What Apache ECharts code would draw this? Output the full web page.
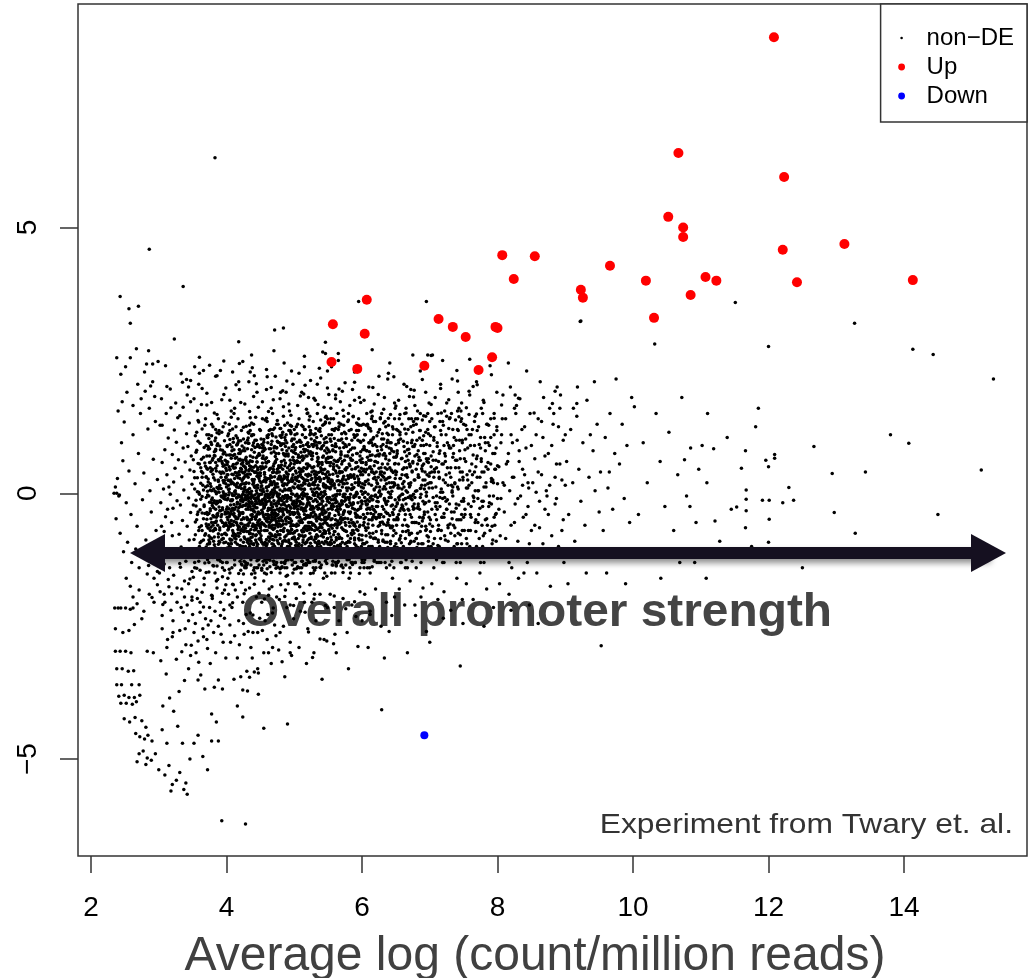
<!DOCTYPE html>
<html><head><meta charset="utf-8">
<script src="https://cdn.jsdelivr.net/npm/echarts@6/dist/echarts.min.js"></script>
<style>html,body{margin:0;padding:0;background:#fff}#c{width:1029px;height:978px}</style>
</head><body><div id="c"></div><script>
const FONT = '"Liberation Sans", Arial, Helvetica, sans-serif';
const xTicks = [2, 4, 6, 8, 10, 12, 14];
const yTicks = [-5, 0, 5];
const xTitle = 'Average log (count/million reads)';
const annotation = 'Overall promoter strength';
const credit = 'Experiment from Twary et. al.';
const legendNames = ['non\u2212DE', 'Up', 'Down'];

// Up-regulated (red) points [A, M]
const upPoints = [[12.08,8.58],[10.67,6.40],[12.23,5.95],[10.52,5.20],[10.74,5.00],[10.74,4.82],[12.21,4.58],[13.12,4.69],[8.07,4.48],[8.55,4.46],[9.66,4.28],[8.24,4.03],[10.19,4.00],[11.07,4.07],[11.23,4.00],[12.42,3.97],[14.13,4.01],[9.23,3.83],[9.26,3.68],[10.85,3.73],[6.07,3.64],[10.31,3.30],[7.13,3.28],[7.34,3.13],[5.57,3.18],[7.97,3.13],[8.00,3.11],[7.53,2.94],[6.04,3.00],[7.92,2.56],[5.55,2.47],[5.93,2.34],[6.92,2.40],[7.72,2.32]];
// Down-regulated (blue) points
const downPoints = [[6.92,-4.55]];
// Arrow annotation (data units)
const arrowY = -1.123, arrowFrom = 2.834, arrowTo = 15.247;

// non-DE points, pairs of (A*100, M*100)
const nonDE_far = [243,370,256,347,270,352,258,320,267,272,238,255,258,255,285,268,282,243,291,243,251,238,244,224,280,192,288,202,286,459,
236,12,241,-5,239,28,247,61,252,-18,245,95,249,134,256,42,259,-40,262,110,265,18,268,-62,270,75,273,150,276,-12,278,38,281,-88,284,121,287,5,289,-35,292,64,294,182,296,-70,298,26,
237,-48,243,-75,248,-110,254,-92,260,-130,266,-105,271,-140,277,-118,283,-152,288,-127,293,-160,297,-98,
240,155,246,172,253,190,262,165,269,205,274,178,279,228,286,160,291,210,295,135,299,248,
235,-216,240,-216,244,-216,251,-216,258,-218,262,-216,268,-208,236,-255,247,-262,256,-258,264,-247,275,-236,
236,-297,243,-297,251,-297,259,-300,283,-297,292,-300,238,-330,246,-330,255,-335,263,-334,
238,-360,245,-360,260,-360,271,-360,241,-382,249,-380,256,-384,264,-384,272,-380,244,-395,252,-395,261,-397,267,-392,
249,-424,257,-430,265,-422,275,-428,281,-440,266,-452,272,-458,279,-462,284,-455,290,-466,
271,-490,277,-485,283,-498,289,-502,295,-490,268,-505,281,-510,
252,-160,258,-175,271,-182,286,-190,293,-205,298,-172,262,-195,278,-222,234,0,238,0,242,-3];
const nonDE_30 = [300,-520,309,-530,315,-512,318,-560,320,-548,326,-540,331,-525,337,-557,342,-566,340,-545,346,-500,335,-470,328,-438,312,-470,305,-445,322,-410,316,-385,306,-400,330,-373,338,-352,344,-330,311,-340,303,-315,326,-312,334,-298,348,-286,313,-275,321,-262,339,-255,344,-240,305,-230,318,-220,327,-205,342,-210,349,-195,308,-190,315,-176,334,-180,
301,-150,304,-121,306,-96,308,-72,310,-44,303,-18,307,8,312,35,305,58,309,82,314,104,302,128,311,150,316,-140,318,-108,320,-80,319,-55,321,-28,317,-2,322,21,324,47,320,73,326,96,323,119,328,142,331,-132,333,-101,330,-77,335,-51,332,-22,337,6,334,31,339,59,336,85,341,112,338,-165,343,-118,345,-88,342,-62,347,-36,344,-9,349,17,346,44,348,70,345,132,349,-147,304,-62,313,-30,327,-14,340,-128,329,63,315,12,343,88,
304,178,317,196,325,170,333,225,342,185,347,212,310,240,336,162,336,389,323,290,335,209,344,200,
302,-185,309,-205,314,-162,321,-240,327,-178,333,-215,338,-195,344,-170,305,-255,312,-290,320,-270,331,-258,340,-285,347,-305];
const nonDE_35 = [352,-470,358,-455,365,-495,372,-520,378,-466,385,-430,388,-351,382,-365,376,-320,368,-368,362,-342,355,-300,358,-278,366,-270,372,-292,381,-262,388,-250,395,-280,397,-235,354,-245,361,-224,369,-236,375,-215,383,-222,391,-205,357,-198,364,-186,378,-192,386,-178,394,-188,399,-172,
351,-158,353,-130,352,-105,354,-78,356,-50,355,-24,357,3,353,29,358,56,356,81,354,108,359,134,357,155,
361,-145,362,-117,363,-90,360,-64,364,-37,362,-11,365,15,363,41,366,68,361,94,364,121,
367,-160,368,-131,370,-103,369,-76,371,-49,367,-22,372,4,370,31,368,57,373,83,371,110,369,140,
374,-148,376,-119,375,-92,377,-64,374,-38,378,-12,376,18,379,44,375,70,377,96,380,125,
381,-137,383,-110,382,-82,384,-55,381,-27,385,-1,383,25,386,52,382,78,384,104,386,148,
387,-162,389,-124,388,-96,390,-69,387,-42,391,-15,389,11,392,37,388,63,390,89,393,115,
394,-140,396,-112,395,-85,397,-58,394,-31,398,-5,396,20,399,47,395,74,397,99,398,132,
381,8,383,-66,385,42,387,-18,389,-90,391,65,393,-40,395,3,397,-76,399,30,382,-44,384,80,386,-120,388,22,390,-33,392,-104,394,56,396,-8,398,-60,400,-115,378,-85,376,58,374,-5,372,-125,370,90,368,-38,366,6,364,-70,362,48,360,-100,
352,178,359,205,371,188,378,171,384,220,393,176,399,198,363,167,375,241,360,256,353,238,366,231,360,226,396,249,386,221,383,631,
388,-466,378,-415,394,-368,358,-351,350,-228,356,-182,361,-205,367,-172,373,-248,379,-198,385,-165,391,-230,397,-182,352,-262,359,-318,365,-255,371,-275,377,-240,384,-300,392,-265,399,-310,393,-616,428,-622];
const nonDE_40 = [401,-12,402,35,403,-67,404,8,405,-41,406,72,407,-95,408,21,409,-28,410,54,411,-3,412,-84,413,39,414,-55,415,91,416,-17,417,-121,418,63,419,-36,420,14,
421,-70,422,45,423,-9,424,-102,425,28,426,-48,427,80,428,-23,429,-140,430,2,431,57,432,-61,433,19,434,-88,435,36,436,-31,437,108,438,-6,439,-77,440,49,
441,-114,442,11,443,-44,444,67,445,-19,446,-96,447,31,448,-58,449,86,450,-2,401,-130,403,24,405,118,407,-33,409,-171,411,47,413,-79,415,-8,417,29,419,-63,
421,99,423,-25,425,-152,427,6,429,61,431,-92,433,-15,435,142,437,-49,439,17,441,-69,443,40,445,-127,447,-11,449,23,402,-50,404,-110,406,-22,408,87,410,-74,
412,16,414,125,416,-60,418,-3,420,-99,422,-37,424,58,426,8,428,-118,430,-45,432,94,434,-1,436,-83,438,43,440,-24,442,-150,444,-66,446,15,448,72,450,-85,
400,60,402,-160,404,50,406,-88,408,-14,410,103,412,-43,414,-26,416,38,418,-81,420,75,422,-133,424,-13,426,-72,428,34,430,-105,432,-30,434,52,436,-2,438,-62,
440,130,442,-20,444,-92,446,48,448,-39,401,90,403,-3,405,-58,407,155,409,-80,411,-38,413,66,415,-112,417,-46,419,82,421,-14,423,18,425,-64,427,-138,429,44,
431,-8,433,113,435,-75,437,-19,439,-108,441,26,443,-80,445,59,447,-125,449,-50,
403,-190,408,-215,413,-182,418,-240,424,-205,429,-228,434,-178,439,-262,444,-195,449,-235,406,-280,416,-310,426,-265,436,-290,446,-330,411,-350,421,-345,431,-372,441,-336,447,-378,
405,175,412,160,419,195,427,168,433,210,440,182,447,162,409,228,424,248,438,236,418,285,419,244,437,260,435,228,418,210,444,206,
424,-421,416,-400,424,-370,430,-335,434,-346,447,-338,405,-210,410,-172,416,-195,422,-168,428,-182,435,-225,441,-171,448,-188,405,-248,412,-268,419,-285,425,-245,432,-260,438,-310,446,-262];
const nonDE_45 = [451,20,452,-55,453,4,454,-103,455,47,456,-26,457,83,458,-70,459,11,460,-41,461,-124,462,60,463,-14,464,-85,465,33,466,-50,467,112,468,-7,469,-96,470,22,
471,-32,472,69,473,-141,474,1,475,-60,476,40,477,-19,478,95,479,-78,480,-10,481,53,482,-115,483,-29,484,16,485,-66,486,128,487,-4,488,-90,489,37,490,-46,
491,74,492,-23,493,-107,494,9,495,-57,496,46,497,-135,498,-16,499,62,500,-82,451,-88,453,-36,455,101,457,-11,459,-152,461,28,463,-64,465,-2,467,-118,469,51,
471,-81,473,12,475,137,477,-47,479,32,481,-99,483,-6,485,-130,487,57,489,-25,491,-170,493,43,495,-12,497,88,499,-40,452,14,454,66,456,-112,458,-21,460,105,
462,-48,464,-3,466,-77,468,39,470,-128,472,-37,474,85,476,-93,478,-13,480,49,482,21,484,-58,486,-30,488,74,490,-101,492,-8,494,118,496,-68,498,24,500,-26,
450,-63,452,-145,454,-19,456,36,458,-98,460,5,462,154,464,-55,466,18,468,-87,470,-14,472,-60,474,-121,476,27,478,-34,480,-110,482,82,484,-41,486,8,488,-156,
490,31,492,-72,494,-48,496,99,498,-84,451,-20,453,78,455,-44,457,-92,459,57,461,-6,463,-180,465,-29,467,19,469,-66,471,123,473,-52,475,-89,477,48,479,-142,
481,-51,483,26,485,93,487,-111,489,-9,491,6,493,-34,495,-74,497,29,499,-119,
452,-205,457,-240,462,-192,468,-225,473,-268,478,-200,484,-250,489,-215,494,-280,499,-236,455,-300,466,-320,477,-295,486,-345,496,-305,
453,172,459,195,466,160,472,220,479,178,485,245,492,168,498,205,470,268,488,190,459,233,460,219,496,230,471,307,484,311,480,190,483,193,
455,-442,490,-434,494,-300,482,-317,468,-290,462,-300,455,-165,461,-228,467,-176,474,-195,480,-172,487,-182,494,-210,453,-258,460,-275,471,-248,479,-262];
const nonDE_50 = [501,-38,502,27,503,-92,504,61,505,-15,506,-60,507,10,508,97,509,-117,510,-27,511,44,512,-73,513,-4,514,83,515,-48,516,18,517,-132,518,55,519,-21,520,-88,
521,36,522,125,523,-55,524,-10,525,71,526,-100,527,3,528,-35,529,50,530,-145,531,22,532,-64,533,90,534,-16,535,-81,536,39,537,-44,538,116,539,-2,540,-109,
541,58,542,-28,543,14,544,-70,545,80,546,-51,547,-123,548,31,549,-8,550,66,501,110,503,-19,505,-140,507,47,509,-55,511,-98,513,28,515,7,517,-33,519,92,
521,-67,523,145,525,-26,527,-110,529,16,531,-40,533,2,535,68,537,-95,539,41,541,-14,543,-160,545,-37,547,60,549,-85,502,-111,504,-45,506,32,508,-6,510,77,
512,-128,514,-32,516,105,518,-62,520,24,522,-18,524,-94,526,48,528,-150,530,8,532,26,534,-46,536,-108,538,-20,540,84,542,-76,544,12,546,134,548,-57,550,-11,
500,-74,504,-170,508,40,512,70,516,-80,520,-42,524,113,528,-3,532,-122,536,56,540,-30,544,-50,548,96,506,-24,510,15,514,-66,518,-135,522,75,526,-30,530,99,
534,-101,538,-58,542,37,546,-90,550,25,
503,-198,509,-222,514,-188,520,-255,526,-205,532,-240,538,-190,544,-275,549,-215,507,-290,518,-320,529,-300,541,-350,
505,165,511,190,518,158,524,212,531,175,537,235,544,162,549,198,515,258,534,205,507,226,515,238,542,266,546,284,549,230,546,263,514,187,521,180,529,179,
527,-309,538,-274,548,-278,521,-261,501,-170,508,-176,515,-205,523,-172,530,-190];
const nonDE_55 = [551,-42,552,35,553,-97,554,12,555,68,556,-21,557,-128,558,50,559,-60,560,-3,561,93,562,-83,563,23,564,-30,565,120,566,-108,567,5,568,-49,569,74,570,-14,
571,40,572,-140,573,-36,574,62,575,-2,576,-71,577,103,578,19,579,-92,580,-25,581,55,582,-8,583,-119,584,30,585,-56,586,85,587,-19,588,11,589,-84,590,46,
591,-44,592,132,593,-1,594,-102,595,27,596,-63,597,70,598,-28,599,4,600,-79,552,-75,554,98,556,24,558,-12,560,-150,562,60,564,-52,566,16,568,-96,570,112,
572,-6,574,-33,576,44,578,-125,580,78,582,-62,584,-22,586,9,588,-110,590,-37,592,58,594,20,596,-88,598,96,600,-15,551,-105,553,52,555,-24,557,15,559,103,
561,-58,563,-16,565,-77,567,41,569,-137,571,-20,573,86,575,-47,577,-93,579,33,581,-160,583,66,585,7,587,-70,589,28,591,-5,593,-54,595,118,597,-113,599,47,
553,-190,559,-215,566,-240,572,-198,578,-262,585,-210,591,-232,597,-185,562,-300,580,-330,594,-288,558,-283,560,-265,
554,160,561,185,568,172,575,208,582,165,589,228,596,180,565,250,586,195,565,263,555,238,551,186,589,175,571,192,595,361];
const nonDE_60 = [601,35,602,-40,603,88,604,-95,605,2,606,54,607,-22,608,130,609,-65,610,18,611,-118,612,71,613,-9,614,40,615,-50,616,102,617,-30,618,6,619,-84,620,60,
621,25,622,-107,623,80,624,-16,625,47,626,-60,627,142,628,-2,629,-76,630,33,631,92,632,-44,633,13,634,-130,635,65,636,-21,637,113,638,-55,639,29,640,-8,
641,75,642,-90,643,44,644,4,645,-36,646,121,647,-70,648,18,649,56,650,-25,602,100,604,16,606,-80,608,-12,610,62,612,-150,614,95,616,-45,618,37,620,-3,
622,20,624,-88,626,74,628,48,630,-54,632,158,634,-14,636,27,638,-102,640,85,642,11,644,-62,646,39,648,-115,650,68,603,-130,607,45,611,-28,615,155,619,-5,
623,-45,627,36,631,-90,635,8,639,110,643,-24,647,-140,605,-15,613,117,621,-72,629,82,637,-38,645,-160,
604,-190,612,-222,620,-180,628,-250,636,-205,644,-230,609,-290,633,-310,648,-195,600,-240,612,-228,640,-260,629,-407,
603,175,610,200,618,168,625,220,633,180,641,245,648,170,615,270,638,215,647,219];
const nonDE_65 = [651,40,653,-50,654,95,655,-12,657,28,658,-93,659,66,661,-30,662,12,663,121,665,-72,666,48,668,-8,669,83,671,-120,672,20,673,-45,675,57,676,135,677,-20,
679,4,680,-85,681,73,683,30,684,-57,685,104,687,-2,688,46,689,-110,691,90,692,-35,693,15,695,-68,696,60,697,150,699,-15,700,38,652,-102,656,110,660,-60,
664,34,667,-140,670,55,674,-5,678,92,682,-28,686,9,690,-47,694,115,698,-90,652,75,656,-33,660,18,664,-10,667,82,670,-78,674,42,678,-55,682,140,686,-115,
690,25,694,-18,698,65,653,10,659,-22,665,160,671,-5,677,88,683,-95,689,52,695,2,
655,-180,663,-210,671,-165,679,-230,687,-195,695,-260,667,-300,690,-178,678,-210,700,-280,
654,175,662,205,670,182,678,165,686,230,694,190,675,260,699,170,677,194,672,195,695,361,697,260];
const nonDE_70 = [701,-50,702,70,704,10,705,-95,707,45,708,125,709,-25,711,88,712,-70,714,30,715,-8,717,110,718,-45,720,55,721,-130,723,20,724,-15,726,95,727,-60,729,38,
730,142,732,-35,733,5,735,75,736,-100,738,48,739,-20,741,120,742,-75,744,25,745,65,747,-40,748,100,750,-10,703,40,710,-5,716,-85,722,155,728,-110,734,12,
740,-50,746,135,706,-140,713,60,719,2,725,-30,731,85,737,-65,743,160,749,30,
703,-170,712,-200,721,-185,731,-220,740,-160,749,-245,720,-235,748,-200,745,-325,
708,180,716,205,725,170,733,215,742,190,719,250,747,170,704,260,740,231,702,259,
752,-30,753,60,755,120,757,-70,758,15,760,90,762,-110,763,35,765,-15,767,145,768,-50,770,70,772,5,773,-85,775,105,777,40,778,-25,780,-130,782,80,783,20,
785,-60,787,128,788,-5,790,55,792,-95,793,25,795,150,797,-40,798,85,800,-10,756,10,761,-45,766,40,771,-10,776,160,781,-75,786,95,791,-20,796,45,
754,-170,764,-200,774,-150,784,-180,794,-215,759,185,769,210,779,175,789,240,799,190,784,-120,759,252,770,204,758,192,780,-250];
const nonDE_80 = [802,50,804,-80,806,110,808,20,810,-35,812,140,814,-110,816,75,818,5,820,-60,822,95,824,30,826,-20,828,165,830,-90,832,60,834,-5,836,120,838,-45,840,35,
842,85,844,-130,846,10,848,150,850,-70,805,-10,813,55,821,-140,829,100,837,15,845,-25,
803,-170,817,-190,831,-160,847,-210,808,185,819,200,833,178,843,230,825,160,839,-150,816,245,826,185,820,-220,
852,20,855,-60,857,110,860,40,862,-15,865,135,867,-95,870,70,872,5,875,-40,877,160,880,90,882,-120,885,30,887,-10,890,125,892,55,895,-70,897,100,900,15,
858,-150,868,180,878,-175,888,200,898,-130,863,210,893,185,873,-5,883,150,885,192,860,-245];
const nonDE_90 = [902,60,905,-40,908,120,911,20,914,-90,917,145,920,45,923,-15,926,95,929,-60,932,175,935,30,938,-120,941,80,944,5,947,130,950,-35,904,-170,918,200,931,-150,943,210,912,160,937,110,
917,169,923,324,922,323,
952,40,956,-70,959,105,963,10,966,150,970,-30,973,75,977,-110,980,55,984,130,987,-10,991,90,995,-55,998,180,961,-150,975,215,989,-170,965,40,953,-287];
const nonDE_hi = [1002,163,1008,-40,1015,95,1021,20,1028,-110,1034,150,1040,60,1047,-25,1053,115,1060,-70,1066,35,1072,180,1079,-5,1085,85,1091,-130,1097,45,1032,281,1041,-160,1069,-130,1076,63,1084,-25,1093,-55,
1102,90,1109,20,1119,84,1121,-52,1108,-160,1139,105,1145,-30,1153,-26,1160,47,1166,80,1167,6,1167,-11,1167,-33,1166,-65,1181,125,1191,-13,1196,62,1128,-90,1151,359,1110,150,1175,-100,1185,160,
1200,276,1200,-92,1200,50,1201,-49,1201,-13,1209,73,1209,66,1221,-18,1230,11,1237,-13,1267,88,1294,37,1297,-36,1328,-75,1343,40,1407,94,1413,271,1443,261,1514,44,1532,215,1327,320,1250,-140,1380,110,1450,-40];
// dense core of the cloud
const core_35 = [351,-22,352,41,352,-87,353,8,354,-54,355,77,355,-13,356,-108,357,29,357,-40,358,98,359,-70,359,2,360,55,361,-31,361,-93,362,19,363,-61,363,64,364,-6,365,-119,365,38,366,-48,367,86,367,-25,368,-79,369,12,369,51,370,-101,371,-36,371,70,372,-3,373,-66,373,27,374,-130,374,103,375,-17,353,-140,356,115,358,-35,360,-2,362,-115,364,30,366,-88,368,128,370,-58,372,45,374,-80,351,63,359,-128,
375,58,376,-29,376,-83,377,13,378,-55,378,92,379,-9,380,-121,380,36,381,-44,382,71,382,-97,383,4,384,-68,384,47,385,-20,386,114,386,-137,387,-38,388,25,388,-76,389,61,390,-14,390,-110,391,82,392,-51,392,9,393,-87,394,40,394,-27,395,125,396,-62,396,-1,397,-145,398,53,398,-35,399,18,399,-92,400,72,
376,6,377,-110,379,45,381,-70,383,99,385,-52,387,-125,389,2,391,-33,393,60,395,-85,397,24,399,-56,375,-95,378,108,380,-60,382,-18,384,83,386,-40,388,140,390,-65,392,30,394,-105,396,75,398,-11,400,-38,377,-48,383,-150,389,118,395,-5];
const core_40 = [400,12,401,-45,401,88,402,-118,402,25,403,-63,403,7,404,-29,404,130,405,-86,405,44,406,-14,406,-102,407,66,407,-38,408,-1,408,-140,409,51,409,-70,410,19,410,96,411,-53,411,-21,412,73,412,-125,413,5,413,-44,414,108,414,-80,415,33,415,-9,416,-96,416,57,417,-33,417,140,418,-64,418,11,419,-112,419,82,420,-25,420,-6,421,47,421,-88,422,118,422,-50,423,24,423,-135,424,-16,424,62,425,-72,425,3,
400,-78,401,35,402,-10,403,112,404,-55,405,-150,406,22,407,-95,408,80,409,-12,410,-60,411,150,412,-30,413,-105,414,15,415,68,416,-20,417,-75,418,99,419,-42,420,-128,421,16,422,-68,423,89,424,-36,425,124,400,-30,401,-103,402,59,403,-37,404,2,405,92,406,-62,407,18,408,-115,409,121,410,-40,411,-4,412,28,413,-92,414,-48,415,-118,416,104,417,-7,418,-27,419,41,420,64,421,-145,422,-5,423,-58,424,-100,425,38,
425,-46,426,85,426,-12,427,-105,427,40,428,-66,428,18,429,126,429,-30,430,-88,430,56,431,-4,431,-132,432,30,432,-58,433,94,433,-22,434,-76,434,9,435,-113,435,70,436,-41,436,-1,437,-152,437,49,438,-18,438,110,439,-62,439,23,440,-95,440,-34,441,77,441,-10,442,-120,442,39,443,-49,443,143,444,-78,444,14,445,-27,445,59,446,-140,446,-55,447,90,447,-6,448,-86,448,28,449,-38,449,120,450,-104,450,6,
426,-70,427,12,428,-130,429,68,430,-20,431,-50,432,104,433,-95,434,45,435,-8,436,-68,437,132,438,-40,439,-110,440,20,441,-60,442,86,443,-15,444,-140,445,32,446,10,447,-35,448,75,449,-75,450,50,426,30,427,-85,428,48,429,-12,430,-115,431,84,432,-26,433,2,434,-55,435,118,436,-90,437,-30,438,26,439,68,440,-145,441,-24,442,-3,443,52,444,-44,445,-100,446,92,447,-60,448,-15,449,38,450,-65,425,102,428,-100,431,36,434,-118,437,-16,440,95,443,-88,446,44,449,-20,427,-3,430,-72,433,58,436,-125,439,-5,442,-45,445,0,448,-123];
const core_45 = [450,33,451,-58,451,102,452,-15,452,-92,453,57,453,-36,454,8,454,-128,455,80,455,-24,456,-70,456,39,457,-5,457,138,458,-104,458,21,459,-47,459,67,460,-16,460,-142,461,95,461,-33,462,-82,462,13,463,-60,463,118,464,-9,464,46,465,-116,465,-41,466,76,466,2,467,-95,467,30,468,-26,468,150,469,-68,469,-3,470,55,470,-134,471,-45,471,88,472,16,472,-78,473,-19,473,106,474,-56,474,38,475,-110,475,-2,
451,12,452,-120,453,85,454,-40,455,3,456,-150,457,64,458,-62,459,26,460,-95,461,-8,462,110,463,-30,464,-75,465,22,466,-52,467,98,468,-115,469,40,470,-20,471,-100,472,58,473,-42,474,130,475,-72,451,-80,452,48,453,-12,454,70,455,-58,456,25,457,-125,458,-2,459,-87,460,108,461,-54,462,-28,463,44,464,-138,465,84,466,-18,467,-66,468,6,469,120,470,-88,471,31,472,-48,473,-135,474,64,475,18,450,-85,453,140,456,-10,459,-130,462,60,465,-30,468,-60,471,10,474,-24,452,92,455,-95,458,50,461,-120,464,16,467,-36,470,85,473,-82,457,-48,463,-106,469,-40,475,98,
475,40,476,-63,476,12,477,-104,477,75,478,-30,478,-2,479,122,479,-85,480,26,480,-45,481,-130,481,60,482,-14,482,93,483,-70,483,4,484,-40,484,145,485,-112,485,33,486,-22,486,-88,487,70,487,-5,488,-58,488,110,489,16,489,-140,490,-35,490,48,491,-76,491,-8,492,85,492,-118,493,22,493,-48,494,128,494,-26,495,-95,495,56,496,-1,496,-68,497,102,497,-36,498,-150,498,35,499,-18,499,77,500,-84,500,10,
476,-40,477,28,478,-120,479,6,480,90,481,-22,482,-60,483,115,484,-90,485,-10,486,52,487,-128,488,-30,489,80,490,-100,491,36,492,-55,493,155,494,-75,495,5,496,-110,497,-20,498,68,499,-60,500,120,476,96,477,-52,478,40,479,-150,480,-12,481,105,482,-95,483,-35,484,14,485,72,486,-140,487,30,488,-80,489,-15,490,132,491,-45,492,8,493,-100,494,62,495,-28,496,26,497,-125,498,-60,499,92,500,-36,478,-78,481,25,484,-115,487,100,490,-4,493,-72,496,126,499,-105,477,-8,480,-70,483,45,486,18,489,-45,492,-92,495,112,498,-2];
const core_50 = [500,55,501,-72,501,18,502,-130,502,86,503,-25,503,-4,504,112,504,-58,505,30,505,-98,506,-38,506,72,507,-6,507,140,508,-115,508,40,509,-20,509,-80,510,96,510,8,511,-50,511,-140,512,62,512,-10,513,-88,513,125,514,20,514,-34,515,-105,515,78,516,-2,516,-62,517,105,517,35,518,-92,518,-25,519,150,519,48,520,-126,520,-45,521,15,521,88,522,-68,522,-8,523,52,523,-110,524,118,524,-30,525,-82,525,26,
501,-105,502,42,503,-60,504,-12,505,130,506,-85,507,22,508,-45,509,68,510,-150,511,30,512,-28,513,90,514,-72,515,8,516,120,517,-118,518,46,519,-8,520,80,521,-55,522,-100,523,15,524,-65,525,102,500,-28,501,82,502,-5,503,-142,504,58,505,-35,506,14,507,-95,508,100,509,-52,510,-18,511,128,512,-80,513,2,514,66,515,-40,516,-120,517,24,518,92,519,-70,520,-12,521,-130,522,138,523,-22,524,34,525,-55,502,-88,505,60,508,-140,511,-2,514,-110,517,70,520,32,523,-75,504,24,507,-52,510,45,513,-30,516,-95,519,-42,522,88,525,-10,
525,-38,526,64,526,-102,527,17,527,-60,528,135,528,-15,529,-88,529,42,530,-4,530,98,531,-125,531,30,532,-48,532,-12,533,75,533,-78,534,10,534,150,535,-30,535,-115,536,55,536,-2,537,-65,537,118,538,22,538,-40,539,-140,539,84,540,-20,540,45,541,-92,541,-8,542,128,542,-58,543,18,543,70,544,-110,544,-32,545,95,545,4,546,-75,546,36,547,-22,547,145,548,-132,548,58,549,-48,549,12,550,-96,550,82,
526,28,527,-118,528,88,529,-28,530,-70,531,112,532,40,533,-52,534,-100,535,65,536,-28,537,8,538,122,539,-62,540,-135,541,54,542,-15,543,-82,544,102,545,-45,546,15,547,-108,548,-10,549,140,550,-60,526,-68,527,48,528,-44,529,110,530,16,531,-82,532,-140,533,35,534,85,535,-6,536,-90,537,58,538,-118,539,26,540,108,541,-36,542,-105,543,44,544,2,545,-150,546,132,547,-35,548,76,549,-85,550,22,528,-128,532,96,536,118,540,-50,544,-75,548,30,527,76,531,-12,535,28,539,-100,543,-25,547,65];
const core_55 = [550,40,551,-70,551,110,552,-18,552,-115,553,68,553,8,554,-50,554,140,555,-95,555,25,556,-30,556,90,557,-135,557,-5,558,55,558,-78,559,118,559,15,560,-42,560,-108,561,78,561,-12,562,38,562,-88,563,150,563,-25,564,-60,564,5,565,100,565,-128,566,48,566,-40,567,-2,567,85,568,-100,568,22,569,-55,569,130,570,-16,570,-85,571,60,571,12,572,-120,572,95,573,-35,573,32,574,-70,574,115,575,-8,
551,-45,552,78,553,-92,554,18,555,-150,556,120,557,36,558,-25,559,-72,560,88,561,-130,562,-5,563,52,564,-98,565,24,566,132,567,-58,568,66,569,-22,570,102,571,-105,572,-40,573,145,574,-15,575,70,552,10,554,-28,556,-66,558,140,560,-10,562,-135,564,60,566,-85,568,-30,570,40,572,18,574,-120,551,28,553,102,555,-60,557,80,559,-100,561,42,563,-65,565,-35,567,-110,569,72,571,-50,573,-2,575,-95,
575,45,576,-60,576,112,577,-22,577,-118,578,70,578,5,579,-48,579,135,580,-90,580,28,581,-12,581,92,582,-140,582,52,583,-35,583,-2,584,120,584,-75,585,16,585,-110,586,62,586,-28,587,145,587,-55,588,35,588,-5,589,-95,589,85,590,-130,590,20,591,-40,591,108,592,-68,592,2,593,-120,593,75,594,-18,594,50,595,-85,595,140,596,-8,596,-45,597,98,597,-140,598,40,598,-25,599,12,599,-100,600,65,
576,25,577,88,578,-100,579,-8,580,150,581,-55,582,-18,583,82,584,-130,585,45,586,-70,587,10,588,110,589,-30,590,-62,591,58,592,-105,593,-42,594,130,595,22,596,-115,597,-60,598,78,599,-15,600,-125,577,48,579,-80,581,30,583,-150,585,100,587,-20,589,-58,591,-2,593,32,595,-30,597,62,599,128,576,-135,580,-35,584,8,588,-75,592,118,596,42];
const core_60 = [600,-20,601,58,601,-95,602,130,602,10,603,-48,603,85,604,-125,604,-8,605,40,605,110,606,-70,606,22,607,-30,607,150,608,-110,608,68,609,-2,609,-58,610,95,610,35,611,-140,611,-15,612,122,612,50,613,-82,613,-38,614,15,614,140,615,-100,615,72,616,-12,616,-60,617,105,617,28,618,-125,618,-32,619,60,619,-5,620,135,620,-85,621,40,621,-48,622,-15,622,88,623,-108,623,18,624,-62,624,115,625,2,
601,18,603,-140,605,-45,607,80,609,125,611,48,613,100,615,-25,617,-85,619,-120,621,12,623,72,625,-40,602,-60,604,82,606,128,608,-20,610,-100,612,-8,614,-50,616,90,618,52,620,-35,622,-130,624,30,603,45,607,-92,611,78,615,145,619,30,623,-25,
625,70,626,-45,626,120,627,-5,627,-110,628,88,628,25,629,-70,629,150,630,-25,630,55,631,-120,631,8,632,102,632,-58,633,38,633,-10,634,135,634,-92,635,70,635,-35,636,18,636,-140,637,95,637,45,638,-78,638,-15,639,128,639,2,640,-105,640,62,641,-42,641,30,642,148,642,-65,643,-8,643,84,644,-128,644,42,645,-22,645,110,646,-80,646,12,647,68,647,-50,648,140,648,-100,649,28,649,-12,650,92,
626,5,628,-130,630,112,632,-30,634,48,636,-60,638,100,640,20,642,-95,644,80,646,-40,648,55,650,-75,627,40,631,-88,635,125,639,-50,643,-115,647,20,627,140,633,75,637,-118,641,95,645,-62,649,160];
const core_65 = [650,35,651,-60,651,120,652,-18,652,80,653,-110,653,15,654,55,654,-40,655,140,655,-88,656,28,656,-5,657,102,657,-130,658,65,658,-28,659,8,659,130,660,-72,660,45,661,-12,661,-100,662,88,662,22,663,-50,663,150,664,-85,664,60,665,-20,665,112,666,-120,666,35,667,2,667,95,668,-62,668,-30,669,140,669,18,670,-95,670,75,671,-40,671,52,672,125,672,-10,673,-75,673,95,674,-128,674,40,675,-25,675,115,
652,-45,656,148,660,-2,664,-140,668,62,672,-90,654,100,658,-105,662,-32,666,70,670,12,674,-55,
675,60,676,-30,676,128,677,-90,677,25,678,70,678,-8,679,-120,679,140,680,45,680,-55,681,100,681,5,682,-75,682,155,683,-25,683,80,684,-105,684,30,685,118,685,-45,686,-8,686,62,687,-130,687,90,688,15,688,-62,689,138,689,42,690,-95,690,-15,691,108,691,55,692,-40,692,-120,693,75,693,25,694,-70,694,145,695,-5,695,92,696,-105,696,35,697,-35,697,120,698,58,698,-82,699,10,699,-45,700,135,680,-140,686,150,692,8,698,-120,684,68];
const core_70 = [700,20,701,-72,701,108,702,50,703,-30,703,140,704,-110,705,78,705,-8,706,30,707,-85,707,125,708,-40,709,62,709,12,710,-125,711,95,711,-18,712,150,713,40,713,-60,714,-100,715,80,715,-25,716,118,717,8,717,-70,718,55,719,-130,719,135,720,25,721,-45,721,90,722,-8,723,60,723,-88,724,110,725,-30,725,145,702,-100,706,100,710,-50,714,28,718,-115,722,75,
726,48,727,-65,728,122,729,-20,729,85,730,-110,731,30,732,150,733,-48,734,68,734,-5,735,-120,736,105,737,20,737,-80,738,138,739,-28,740,62,741,-95,741,12,742,118,743,-50,744,80,745,-130,745,40,746,155,747,-15,748,95,748,-70,749,25,750,130,750,-45,727,15,731,-75,735,90,739,-130,743,48,747,-95,733,2,741,155,
751,65,752,-40,753,128,754,10,755,-95,756,85,757,-20,758,148,759,42,760,-70,761,110,762,20,763,-120,764,72,765,-8,766,135,767,-55,768,50,769,-100,770,118,771,5,772,-40,773,92,774,30,775,-130,776,65,777,-15,778,150,779,-80,780,40,781,105,782,-50,783,12,784,130,785,-105,786,58,787,-25,788,90,789,-70,790,140,791,22,792,-120,793,75,794,-5,795,110,796,-60,797,45,798,-90,799,125,800,18,
802,-30,805,95,807,140,810,15,812,-85,815,60,817,-130,820,110,822,30,825,-55,827,150,830,-10,832,80,835,-105,837,45,840,125,842,-40,845,20,847,-95,850,90,852,-120,855,65,857,2,860,140,862,-65,865,35,867,105,870,-30,872,-110,875,75,877,15,880,-80,882,130,885,-20,887,55,890,-100,892,160,895,25,897,-50,900,110];
// second layer of the dense core
const core2_a = [370,-8,371,47,372,-96,373,21,374,-59,375,84,376,-33,377,-117,378,5,379,62,380,-71,381,29,382,-14,383,-102,384,58,385,-45,386,11,387,93,388,-82,389,-26,390,40,391,-128,392,68,393,-7,394,-55,395,24,396,-93,397,77,398,-39,399,-2,400,-130,401,54,402,-69,403,15,404,-44,405,101,406,-88,407,-12,408,36,409,-108,410,71,411,-29,412,-77,413,48,414,-1,415,-56,416,19,417,95,418,-120,419,-40,420,62,
371,-62,373,88,375,-104,377,41,379,-23,381,-90,383,70,385,2,387,-60,389,112,391,-16,393,-78,395,51,397,-118,399,30,401,-26,403,-95,405,45,407,-51,409,-4,411,82,413,-112,415,12,417,-68,419,35,370,30,372,-40,374,110,376,-70,378,-18,380,66,382,-120,384,-30,386,90,388,8,390,-92,392,-44,394,81,396,-10,398,-75,400,43,402,108,404,-100,406,25,408,-58,410,-32,412,3,414,-86,416,-48,418,75,420,-20,
372,14,376,48,380,-42,384,120,388,-105,392,-5,396,38,400,-60,404,72,408,-88,412,-135,416,92,420,-75,374,-88,378,130,382,-55,386,-15,390,15,394,-130,398,62,402,-35,406,-115,410,35,414,55,418,-5];
const core2_b = [420,28,421,-57,422,9,423,-101,424,80,425,-23,426,-82,427,50,428,-8,429,-116,430,33,431,-48,432,115,433,-72,434,-18,435,61,436,-135,437,4,438,-44,439,90,440,-97,441,13,442,-63,443,-27,444,100,445,-110,446,37,447,-52,448,-3,449,72,450,-88,451,45,452,-32,453,-120,454,22,455,96,456,-60,457,-14,458,58,459,-98,460,27,461,-40,462,-5,463,84,464,-126,465,47,466,-22,467,-80,468,108,469,-50,470,0,
421,78,422,-122,423,40,424,-38,425,-92,426,18,427,-60,428,95,429,-20,430,-135,431,6,432,-86,433,42,434,128,435,-50,436,-10,437,-95,438,60,439,-30,440,22,441,-140,442,100,443,-68,444,5,445,-40,446,70,447,-108,448,32,449,-15,450,118,451,-70,452,-2,453,50,454,-96,455,-28,456,85,457,-125,458,-40,459,12,460,-70,461,105,462,-112,463,-30,464,28,465,-62,466,92,467,16,468,-102,469,45,470,-38,
420,-98,422,55,424,-2,426,-128,428,64,430,-60,432,-10,434,-100,436,50,438,-82,440,110,442,-35,444,-60,446,-8,448,-135,450,38,452,-58,454,90,456,-95,458,-18,460,135,462,-45,464,-82,466,2,468,-32,470,78,421,-12,423,-70,425,52,427,-140,429,20,431,100,433,-115,435,-25,437,82,439,-58,441,40,443,-10,445,88,447,-72,449,-105,451,-20,453,66,455,-135,457,30,459,-52,461,-2,463,-90,465,120,467,-45,469,-128];
const core2_c = [470,40,471,-66,472,18,473,-105,474,86,475,-30,476,-78,477,52,478,-12,479,-120,480,30,481,-45,482,110,483,-90,484,-20,485,62,486,-132,487,6,488,-52,489,95,490,-70,491,20,492,-35,493,-112,494,44,495,-8,496,80,497,-85,498,12,499,-60,500,102,501,-25,502,-98,503,38,504,-2,505,-138,506,68,507,-40,508,-15,509,88,510,-105,511,8,512,-55,513,42,514,-82,515,120,516,-28,517,-68,518,25,519,-125,520,55,
471,5,472,-118,473,75,474,-42,475,-5,476,130,477,-95,478,32,479,-28,480,-62,481,92,482,-138,483,15,484,-72,485,-18,486,105,487,-48,488,40,489,-108,490,-10,491,70,492,-88,493,8,494,-40,495,115,496,-125,497,22,498,-75,499,48,500,-15,501,-88,502,30,503,-62,504,96,505,-30,506,-100,507,10,508,58,509,-120,510,40,511,-70,512,110,513,-20,514,-135,515,25,516,-48,517,82,518,-92,519,-2,520,-62,
472,60,474,-130,476,-15,478,-58,480,122,482,-32,484,75,486,-82,488,-125,490,26,492,118,494,-95,496,-52,498,88,500,-130,502,75,504,-70,506,-8,508,-80,510,-30,512,15,514,48,516,-112,518,-45,520,95,471,-102,473,-40,475,45,477,-2,479,108,481,-140,483,-52,485,28,487,88,489,-32,491,-125,493,52,495,-62,497,-112,499,-22,501,60,503,125,505,12,507,-78,509,35,511,-128,513,-92,515,-5,517,-135,519,70];
const core2_d = [520,-18,521,52,522,-85,523,110,524,-42,525,8,526,-120,527,70,528,-58,529,-2,530,36,531,-92,532,122,533,-25,534,-68,535,15,536,95,537,-130,538,-10,539,48,540,-80,541,88,542,-40,543,-115,544,28,545,-55,546,-2,547,105,548,-92,549,40,550,-30,551,-68,552,132,553,-120,554,58,555,-12,556,-48,557,82,558,-105,559,18,560,-72,561,122,562,-32,563,-2,564,-130,565,62,566,-20,567,-82,568,100,569,-45,570,22,
521,-110,522,18,523,-45,524,78,525,-85,526,40,527,-25,528,-140,529,92,530,-60,531,0,532,-42,533,105,534,-95,535,52,536,-22,537,30,538,-72,539,138,540,-118,541,-30,542,68,543,-5,544,-95,545,45,546,-128,547,-45,548,85,549,-15,550,-108,551,58,552,-38,553,20,554,-82,555,110,556,-135,557,-20,558,45,559,-92,560,10,561,-50,562,88,563,-100,564,32,565,-55,566,125,567,-25,568,-115,569,78,570,-65,
522,-62,525,112,528,20,531,-128,534,60,537,-48,540,2,543,90,546,-72,549,-122,552,-8,555,-88,558,120,561,-18,564,-58,567,38,570,-135,523,-130,526,92,529,-35,532,-85,535,-112,538,95,541,-65,544,130,547,10,550,68,553,-62,556,22,559,62,562,-120,565,-100,568,5];
const core2_e = [570,55,571,-92,572,28,573,-48,574,-118,575,92,576,-12,577,-72,578,48,579,-105,580,10,581,118,582,-38,583,-85,584,62,585,-22,586,-130,587,32,588,-60,589,105,590,-5,591,-98,592,75,593,-32,594,-70,595,15,596,128,597,-112,598,-45,599,58,600,-88,601,-2,602,42,603,-120,604,110,605,-65,606,-20,607,80,608,-140,609,25,610,-50,611,95,612,-30,613,-100,614,45,615,-12,616,-75,617,135,618,8,619,-45,620,-110,
571,25,573,128,575,-55,577,10,579,70,581,-125,583,35,585,-78,587,-18,589,-88,591,48,593,110,595,-120,597,20,599,-15,601,82,603,-55,605,22,607,-105,609,-28,611,-75,613,62,615,-138,617,-40,619,92,572,-68,574,18,576,-110,578,-25,580,138,582,-92,584,-50,586,72,588,-8,590,-130,592,-45,594,100,596,-78,598,35,600,-130,602,-95,604,2,606,58,608,-38,610,122,612,-82,614,-5,616,40,618,-128,620,70];
const core2_f = [621,-25,623,58,624,-92,626,12,627,-55,629,102,630,-120,632,30,633,-12,635,-78,636,88,638,-38,639,-105,641,48,642,-2,644,-65,645,125,647,-30,648,15,650,-95,651,70,653,-48,654,-8,656,115,657,-80,659,35,660,-25,662,-115,663,78,665,5,666,-60,668,120,669,-32,671,50,672,-92,674,-12,675,88,677,-55,678,25,680,130,681,-102,683,-20,684,62,686,-72,687,10,689,100,690,-45,692,-118,693,40,695,-5,696,-80,698,112,699,32,700,-58,
622,108,625,-130,628,-40,631,72,634,25,637,-92,640,-60,643,95,646,-108,649,42,652,-20,655,10,658,-130,661,98,664,-40,667,30,670,-75,673,140,676,-2,679,-110,682,55,685,-30,688,-95,691,75,694,-62,697,18,700,90,623,-8,626,-100,629,40,632,132,635,-18,638,55,641,-135,644,20,647,78,650,-50,653,118,656,-85,659,-2,662,48,665,-125,668,-70,671,15,674,100,677,-28,680,-85,683,35,686,118,689,-52,692,-20,695,65,698,-100];
const core2_g = [702,20,704,-62,706,105,708,-18,710,48,712,-98,714,75,716,2,718,-45,720,128,722,-80,724,35,726,-12,728,90,730,-58,732,15,734,120,736,-35,738,62,740,-95,742,8,744,100,746,-50,748,40,750,-15,752,82,754,-85,756,25,758,110,760,-40,762,55,764,-5,766,90,768,-72,770,30,772,125,774,-28,776,60,778,-100,780,12,782,95,784,-48,786,45,788,-18,790,105,792,-62,794,20,796,75,798,-38,800,52,
703,-105,707,40,711,-30,715,135,719,-10,723,70,727,-90,731,48,735,-60,739,100,743,-22,747,140,751,-70,755,35,759,-100,763,120,767,5,771,-55,775,85,779,-15,783,50,787,-110,791,28,795,-45,799,118,705,62,713,-68,721,-38,729,140,737,18,745,-78,753,102,761,-25,769,65,777,-60,785,130,793,-88];
// upper and lower fringes of the cloud
const fringe = [305,128,318,161,331,146,347,172,358,137,371,166,382,151,396,186,407,143,421,171,434,154,445,190,459,141,469,176,484,163,495,147,509,183,520,151,535,167,546,143,561,178,572,156,587,144,598,171,613,153,624,186,639,141,650,164,665,151,676,181,691,146,702,167,717,151,728,176,743,144,754,161,769,149,780,171,795,141,806,166,831,179,854,151,881,169,
312,201,341,214,364,197,391,231,414,204,441,221,466,199,489,211,516,203,539,217,566,196,589,209,616,199,639,226,666,201,689,214,716,197,741,211,764,201,791,223,
285,-136,298,-147,308,-133,322,-154,332,-139,346,-161,356,-141,370,-149,380,-136,394,-157,404,-143,418,-151,428,-136,442,-159,452,-141,466,-149,476,-139,490,-154,500,-143,514,-134,524,-151,538,-139,548,-156,562,-137,572,-149,586,-134,596,-151,
290,-196,306,-209,319,-189,336,-224,349,-201,366,-214,379,-193,396,-219,409,-206,426,-189,439,-229,456,-199,469,-216,486,-194,499,-211,516,-224,529,-199,546,-211,559,-193,576,-217,589,-204];

function toPairs(a) { const out = []; for (let i = 0; i < a.length; i += 2) out.push([a[i] / 100, a[i + 1] / 100]); return out; }
const nonDE = toPairs([].concat(nonDE_far, nonDE_30, nonDE_35, nonDE_40, nonDE_45, nonDE_50, nonDE_55, nonDE_60, nonDE_65, nonDE_70, nonDE_80, nonDE_90, nonDE_hi,
  core_35, core_40, core_45, core_50, core_55, core_60, core_65, core_70,
  core2_a, core2_b, core2_c, core2_d, core2_e, core2_f, core2_g, fringe));

function dotIcon(r, color) {
  const svg = '<svg xmlns="http://www.w3.org/2000/svg" width="24" height="12" viewBox="0 0 24 12"><circle cx="4" cy="6" r="' + r + '" fill="' + color + '"/></svg>';
  return 'image://data:image/svg+xml;charset=utf-8,' + encodeURIComponent(svg);
}
const minus = v => (v < 0 ? '\u2212' + Math.abs(v) : String(v));

const chart = echarts.init(document.getElementById('c'), null, { renderer: 'canvas' });
chart.setOption({
  animation: false,
  backgroundColor: '#fff',
  textStyle: { fontFamily: FONT },
  grid: { left: 78, right: 2, top: 4, bottom: 122, outerBoundsMode: 'none', containLabel: false, show: true, borderColor: '#333', borderWidth: 1.5, backgroundColor: 'transparent' },
  xAxis: {
    type: 'value', min: 1.808, max: 15.815,
    name: xTitle, nameLocation: 'middle', nameGap: 77,
    nameTextStyle: { fontSize: 48, color: '#404040', fontFamily: FONT, padding: [0, 35, 0, 0] },
    axisLine: { show: false, onZero: false },
    axisTick: { show: true, inside: false, length: 17, customValues: xTicks, lineStyle: { color: '#333', width: 1.5 } },
    axisLabel: { show: true, customValues: xTicks, margin: 38, fontSize: 28, color: '#000', fontFamily: FONT, formatter: minus },
    splitLine: { show: false }
  },
  yAxis: {
    type: 'value', min: -6.823, max: 9.204,
    axisLine: { show: false, onZero: false },
    axisTick: { show: true, inside: false, length: 18, customValues: yTicks, lineStyle: { color: '#333', width: 1.5 } },
    axisLabel: { show: true, customValues: yTicks, rotate: 90, margin: 36, fontSize: 28, color: '#000', fontFamily: FONT, formatter: minus },
    splitLine: { show: false }
  },
  legend: {
    right: 2, top: 4, orient: 'vertical', selectedMode: false,
    backgroundColor: '#fff', borderColor: '#333', borderWidth: 1.5, borderRadius: 0,
    padding: [22, 13, 14, 17], itemWidth: 24, itemHeight: 12, itemGap: 5,
    textStyle: { fontSize: 24, color: '#000', fontFamily: FONT },
    data: [
      { name: legendNames[0], icon: dotIcon(1.3, '#000') },
      { name: legendNames[1], icon: dotIcon(3.4, '#ff0000') },
      { name: legendNames[2], icon: dotIcon(3.4, '#0000ff') }
    ]
  },
  graphic: [
    { type: 'text', z: 100, x: 537, y: 613, scaleX: 1.04, style: { text: annotation, font: 'bold 46px ' + FONT, fill: '#444', textAlign: 'center', textVerticalAlign: 'middle', align: 'center', verticalAlign: 'middle' } },
    { type: 'text', z: 100, x: 1013, y: 825, scaleX: 1.135, style: { text: credit, font: '28px ' + FONT, fill: '#333', textAlign: 'right', textVerticalAlign: 'middle', align: 'right', verticalAlign: 'middle' } }
  ],
  series: [
    { name: legendNames[0], type: 'scatter', data: nonDE, symbol: 'circle', symbolSize: 3.5, itemStyle: { color: '#000', opacity: 1 }, silent: true, large: false, progressive: 0, z: 2 },
    { name: legendNames[1], type: 'scatter', data: upPoints, symbol: 'circle', symbolSize: 10, itemStyle: { color: '#ff0000', opacity: 1 }, silent: true, z: 3 },
    { name: legendNames[2], type: 'scatter', data: downPoints, symbol: 'circle', symbolSize: 8, itemStyle: { color: '#0000ff', opacity: 1 }, silent: true, z: 3 },
    { name: 'arrow', type: 'scatter', data: [], silent: true, z: 5,
      markLine: {
        silent: true, animation: false, z: 5,
        symbol: ['triangle', 'triangle'], symbolSize: [38, 35],
        label: { show: false },
        lineStyle: { color: '#151020', width: 12, type: 'solid', opacity: 1, shadowColor: 'rgba(0,0,0,0.45)', shadowBlur: 6, shadowOffsetX: 2, shadowOffsetY: 4 },
        emphasis: { disabled: true },
        data: [[{ coord: [arrowFrom, arrowY] }, { coord: [arrowTo, arrowY] }]]
      }
    }
  ]
});
</script></body></html>
